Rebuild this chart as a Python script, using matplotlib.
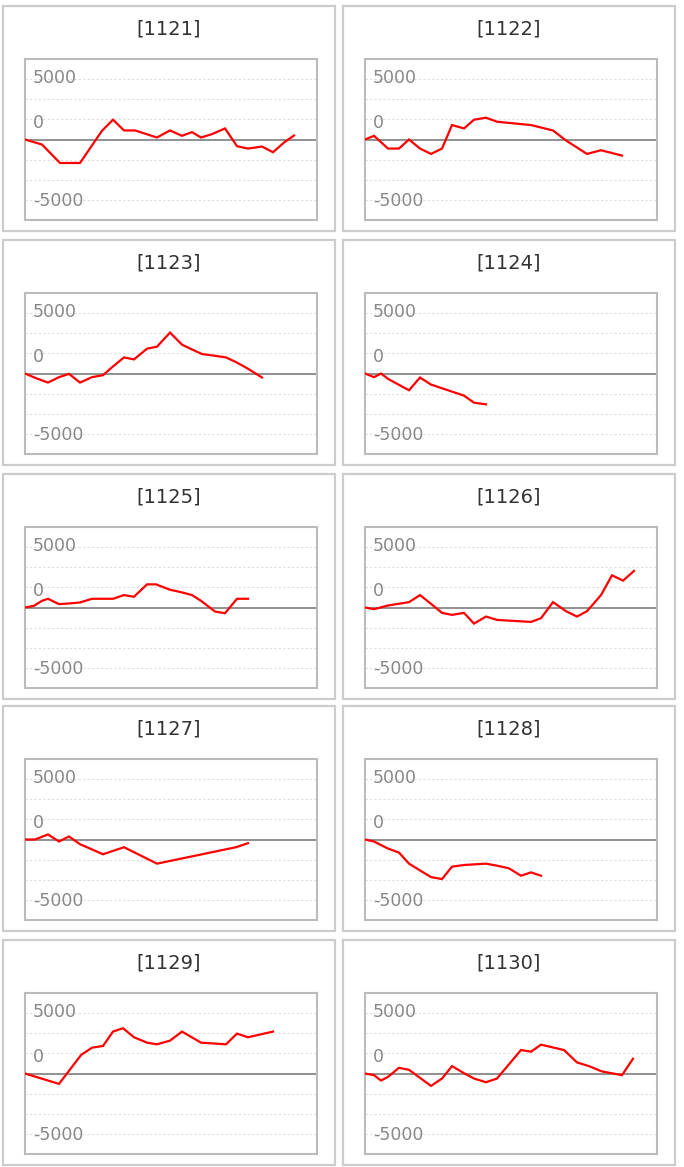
import matplotlib
matplotlib.use('Agg')
import matplotlib.pyplot as plt
from matplotlib.patches import Rectangle

plt.rcParams['font.family'] = ['DejaVu Sans']

# panel ids, in reading order
ids = ['1121', '1122', '1123', '1124', '1125', '1126', '1127', '1128', '1129', '1130']

# running balance per panel: t = time position, v = value
t1121 = [0, 17, 35, 55, 77, 88, 99, 110, 132, 145, 157, 167, 176, 187, 200, 212, 223, 237, 248, 259, 269]
v1121 = [0, -625, -2917, -2917, 1083, 2458, 1125, 1125, 250, 1125, 458, 917, 250, 667, 1375, -833, -1125, -875, -1583, -375, 500]
t1122 = [0, 9, 23, 34, 44, 55, 66, 77, 87, 99, 109, 121, 132, 166, 188, 201, 222, 236, 257]
v1122 = [0, 458, -1125, -1125, 0, -1125, -1792, -1125, 1792, 1375, 2458, 2708, 2208, 1792, 1125, -125, -1792, -1333, -2000]
t1123 = [0, 11, 23, 34, 44, 55, 67, 78, 88, 99, 109, 122, 132, 145, 157, 166, 177, 187, 201, 211, 222, 237]
v1123 = [0, -583, -1125, -458, -42, -1125, -458, -208, 875, 2000, 1750, 3083, 3333, 5083, 3583, 3042, 2417, 2250, 2000, 1417, 667, -500]
t1124 = [0, 9, 16, 23, 44, 55, 66, 99, 109, 121]
v1124 = [0, -458, 0, -667, -2083, -500, -1375, -2750, -3625, -3833]
t1125 = [0, 9, 17, 23, 34, 44, 55, 67, 88, 99, 109, 122, 131, 145, 157, 167, 176, 190, 200, 212, 223]
v1125 = [0, 208, 833, 1083, 417, 500, 625, 1083, 1083, 1542, 1333, 2875, 2875, 2208, 1875, 1542, 833, -500, -708, 1083, 1083]
t1126 = [0, 9, 23, 44, 55, 66, 77, 87, 99, 109, 121, 132, 166, 176, 188, 201, 212, 222, 236, 247, 258, 269]
v1126 = [0, -208, 250, 667, 1542, 458, -667, -917, -667, -2000, -1125, -1542, -1792, -1333, 667, -458, -1125, -458, 1542, 4000, 3333, 4542]
t1127 = [0, 10, 23, 34, 44, 55, 78, 99, 132, 211, 223]
v1127 = [0, 0, 625, -250, 375, -583, -1833, -958, -3000, -958, -458]
t1128 = [0, 9, 23, 34, 44, 56, 66, 77, 87, 99, 121, 132, 144, 156, 166, 176]
v1128 = [0, -250, -1125, -1625, -3000, -3917, -4667, -4917, -3375, -3167, -3000, -3250, -3583, -4500, -4083, -4500]
t1129 = [0, 34, 56, 67, 78, 88, 98, 109, 122, 132, 145, 157, 176, 201, 212, 223, 248]
v1129 = [0, -1292, 2292, 3208, 3417, 5208, 5625, 4500, 3833, 3625, 4083, 5208, 3833, 3625, 4958, 4500, 5208]
t1130 = [0, 9, 16, 23, 34, 44, 66, 77, 87, 99, 109, 121, 132, 156, 166, 176, 199, 212, 224, 237, 257, 268]
v1130 = [0, -208, -875, -417, 708, 458, -1542, -625, 917, 42, -625, -1083, -625, 2917, 2708, 3583, 2917, 1375, 917, 250, -208, 1833]

ts = [t1121, t1122, t1123, t1124, t1125, t1126, t1127, t1128, t1129, t1130]
vs = [v1121, v1122, v1123, v1124, v1125, v1126, v1127, v1128, v1129, v1130]

# axis labels as drawn in the source (not aligned with the grid)
ylab_text = ['5000', '0', '-5000']
ylab_pos = [7600, 2000, -7700]

W, H = 684, 1167
fig = plt.figure(figsize=(W/100, H/100), dpi=100)

col_x = [3, 343]
row_y = [6, 240, 474, 706, 940]
pw, ph = 332, 225

def fx(px):
	return px / W

def fy(py, h=0):
	return 1 - (py + h) / H

for i, pid in enumerate(ids):
	r, c = divmod(i, 2)
	x0, y0 = col_x[c], row_y[r]
	# outer panel frame
	fig.patches.append(Rectangle((fx(x0), fy(y0, ph)), pw/W, ph/H, transform=fig.transFigure,
		fill=False, edgecolor='#cccccc', linewidth=1.6))
	fig.text(fx(x0 + pw/2), fy(y0 + 23), '[' + pid + ']', ha='center', va='center',
		fontsize=14, color='#333333')

	ax = fig.add_axes([fx(x0 + 22), fy(y0 + 53, 161), 292/W, 161/H])
	ax.set_xlim(0, 292)
	ax.set_ylim(-10000, 10000)
	for g in [7500, 5000, 2500, -2500, -5000, -7500]:
		ax.axhline(g, color='#dddddd', linewidth=0.8, linestyle=(0, (2, 2)), zorder=1)
	ax.axhline(0, color='#888888', linewidth=1.3, zorder=2)
	ax.plot(ts[i], vs[i], color='red', linewidth=1.6, zorder=3, solid_joinstyle='miter')
	for txt, yv in zip(ylab_text, ylab_pos):
		ax.text(0.028, yv, txt, transform=ax.get_yaxis_transform(), ha='left', va='center',
			fontsize=12.5, color='#888888', zorder=4)
	ax.set_xticks([])
	ax.set_yticks([])
	for s in ax.spines.values():
		s.set_color('#bbbbbb')
		s.set_linewidth(1.5)

plt.savefig('out.png', dpi=100)
